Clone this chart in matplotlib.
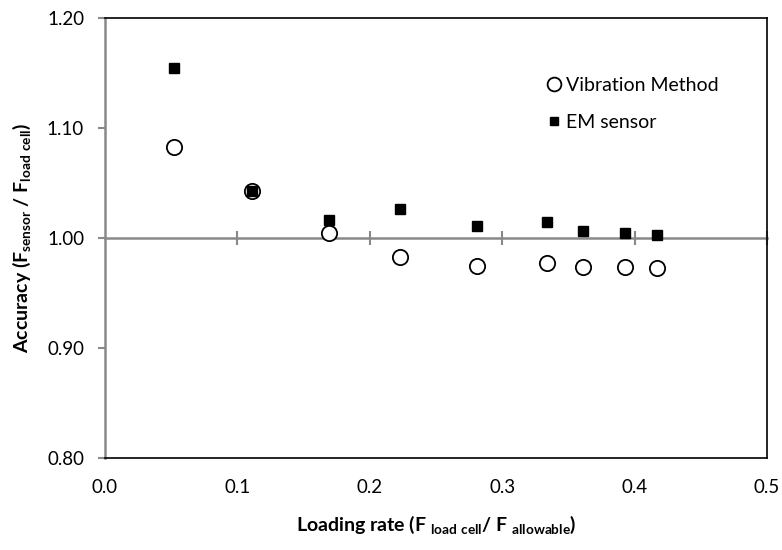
import matplotlib
matplotlib.use('Agg')
import matplotlib.pyplot as plt

# font settings
plt.rcParams['font.family'] = ['Lato', 'DejaVu Sans']
plt.rcParams['mathtext.fontset'] = 'custom'
plt.rcParams['mathtext.rm'] = 'Lato'
plt.rcParams['mathtext.bf'] = 'Lato:bold'

# data
loading_rate = [0.052, 0.111, 0.169, 0.223, 0.281, 0.334, 0.361, 0.393, 0.417]
vibration = [1.083, 1.043, 1.0045, 0.983, 0.975, 0.977, 0.974, 0.974, 0.973]
em_sensor = [1.155, 1.043, 1.0165, 1.026, 1.0105, 1.015, 1.006, 1.0045, 1.003]

x_ticks = [0.0, 0.1, 0.2, 0.3, 0.4, 0.5]
y_ticks = [0.80, 0.90, 1.00, 1.10, 1.20]

grey = '#898989'

fig = plt.figure(figsize=(7.82, 5.50), dpi=100)
ax = fig.add_axes([105 / 782, 1 - 458 / 550, 662 / 782, 440 / 550])

ax.plot(loading_rate, vibration, 'o', markersize=11, markerfacecolor='white',
        markeredgecolor='black', markeredgewidth=1.3, label='Vibration Method', zorder=3)
ax.plot(loading_rate, em_sensor, 's', markersize=7, color='black',
        label='EM sensor', zorder=4)

ax.set_xlim(0, 0.5)
ax.set_ylim(0.8, 1.2)
ax.set_xticks(x_ticks)
ax.set_xticklabels(['%.1f' % v for v in x_ticks])
ax.set_yticks(y_ticks)
ax.set_yticklabels(['%.2f' % v for v in y_ticks])

ax.tick_params(axis='x', length=0, pad=15, labelsize=13.5)
ax.tick_params(axis='y', length=5, width=1.5, color=grey, pad=10, labelsize=13.5)

for side in ['top', 'right', 'bottom']:
    ax.spines[side].set_color('black')
    ax.spines[side].set_linewidth(1.2)
ax.spines['left'].set_color(grey)
ax.spines['left'].set_linewidth(1.8)

# horizontal axis line at 1.00 with tick marks
sec = ax.secondary_xaxis(0.5)
sec.set_xticks(x_ticks[1:])
sec.tick_params(axis='x', direction='inout', length=10, width=1.5, color=grey, labelbottom=False, labeltop=False)
sec.spines['top'].set_color(grey)
sec.spines['top'].set_linewidth(1.8)
sec.spines['bottom'].set_color(grey)
sec.spines['bottom'].set_linewidth(1.8)

ax.set_xlabel(r'Loading rate (F $_{\mathbf{load\ cell}}$/ F $_{\mathbf{allowable}}$)',
              fontsize=14, fontweight='bold', labelpad=13)
ax.set_ylabel(r'Accuracy (F$_{\mathbf{sensor}}$ / F$_{\mathbf{load\ cell}}$)',
              fontsize=14, fontweight='bold', labelpad=10)

ax.legend(loc='upper left', bbox_to_anchor=(0.645, 0.905), frameon=False, fontsize=14,
          handlelength=0.5, handletextpad=0.35, labelspacing=1.0, markerscale=0.9)

fig.savefig('out.png', dpi=100)
